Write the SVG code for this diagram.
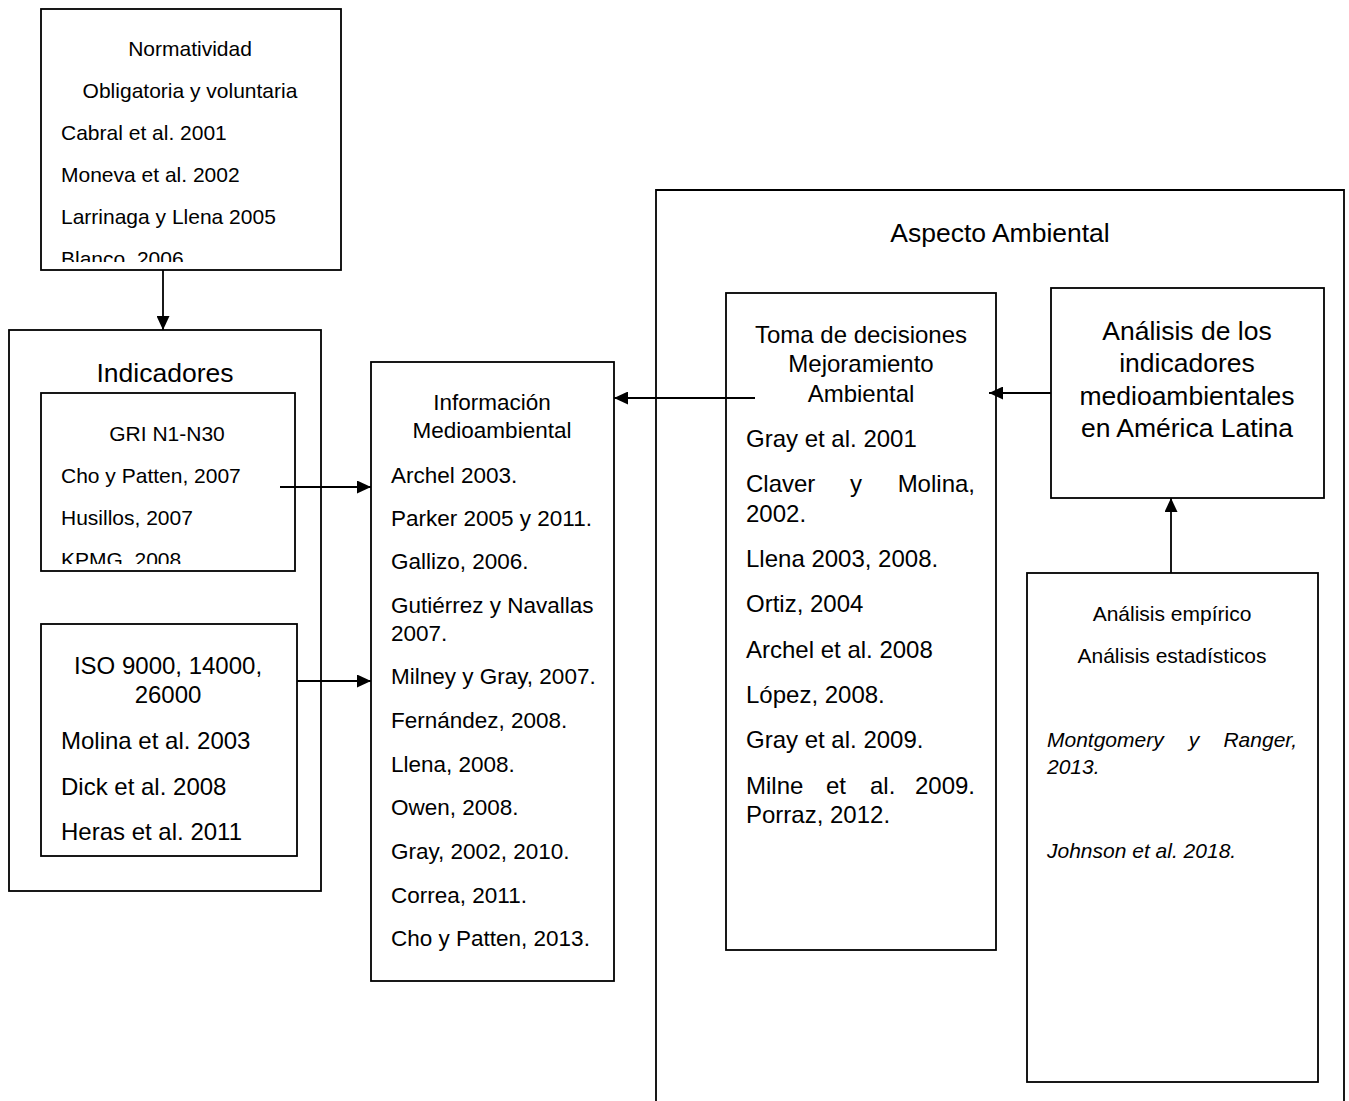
<svg xmlns="http://www.w3.org/2000/svg" width="1349" height="1101" viewBox="0 0 1349 1101">
<style>
.box{fill:#fff;stroke:#000;stroke-width:1.8}
.t{font-family:"Liberation Sans",Arial,sans-serif;fill:#000}
.c{text-anchor:middle}
.e{text-anchor:end}
.s21{font-size:21px}
.s22{font-size:22.5px}
.s24{font-size:24px}
.s26{font-size:26.5px}
.it{font-style:italic}
.ln{fill:none;stroke:#000;stroke-width:1.8}
</style>
<defs>
<marker id="ah" markerUnits="userSpaceOnUse" markerWidth="15" markerHeight="13" refX="14" refY="6.5" orient="auto">
<path d="M0,0 L14,6.5 L0,13 z" fill="#000"/>
</marker>
<clipPath id="clipTop"><rect x="41" y="9" width="300" height="253"/></clipPath>
<clipPath id="clipGri"><rect x="41" y="393" width="254" height="171"/></clipPath>
</defs>

<g id="aspecto">
<path class="ln" d="M656,1101 L656,190 L1344,190 L1344,1101"/>
<text class="t c s26" x="1000" y="242">Aspecto Ambiental</text>
</g>

<g id="normatividad">
<rect class="box" x="41" y="9" width="300" height="261"/>
<g clip-path="url(#clipTop)">
<text class="t c s21" x="190" y="56">Normatividad</text>
<text class="t c s21" x="190" y="98">Obligatoria y voluntaria</text>
<text class="t s21" x="61" y="140">Cabral et al. 2001</text>
<text class="t s21" x="61" y="182">Moneva et al. 2002</text>
<text class="t s21" x="61" y="224">Larrinaga y Llena 2005</text>
<text class="t s21" x="61" y="266">Blanco, 2006</text>
</g>
</g>

<g id="indicadores">
<rect class="box" x="9" y="330" width="312" height="561"/>
<text class="t c s26" x="165" y="382">Indicadores</text>
</g>

<g id="gri">
<rect class="box" x="41" y="393" width="254" height="178"/>
<g clip-path="url(#clipGri)">
<text class="t c s21" x="167" y="441">GRI N1-N30</text>
<text class="t s21" x="61" y="483">Cho y Patten, 2007</text>
<text class="t s21" x="61" y="525">Husillos, 2007</text>
<text class="t s21" x="61" y="567">KPMG, 2008</text>
</g>
</g>

<g id="iso">
<rect class="box" x="41" y="624" width="256" height="232"/>
<text class="t c s24" x="168" y="674">ISO 9000, 14000,</text>
<text class="t c s24" x="168" y="703">26000</text>
<text class="t s24" x="61" y="749">Molina et al. 2003</text>
<text class="t s24" x="61" y="795">Dick et al. 2008</text>
<text class="t s24" x="61" y="840">Heras et al. 2011</text>
</g>

<g id="informacion">
<rect class="box" x="371" y="362" width="243" height="619"/>
<text class="t c s22" x="492" y="410">Información</text>
<text class="t c s22" x="492" y="438">Medioambiental</text>
<text class="t s22" x="391" y="483">Archel 2003.</text>
<text class="t s22" x="391" y="526">Parker 2005 y 2011.</text>
<text class="t s22" x="391" y="569">Gallizo, 2006.</text>
<text class="t s22" x="391" y="613">Gutiérrez y Navallas</text>
<text class="t s22" x="391" y="641">2007.</text>
<text class="t s22" x="391" y="684">Milney y Gray, 2007.</text>
<text class="t s22" x="391" y="728">Fernández, 2008.</text>
<text class="t s22" x="391" y="772">Llena, 2008.</text>
<text class="t s22" x="391" y="815">Owen, 2008.</text>
<text class="t s22" x="391" y="859">Gray, 2002, 2010.</text>
<text class="t s22" x="391" y="903">Correa, 2011.</text>
<text class="t s22" x="391" y="946">Cho y Patten, 2013.</text>
</g>

<g id="toma">
<rect class="box" x="726" y="293" width="270" height="657"/>
<text class="t c s24" x="861" y="343">Toma de decisiones</text>
<text class="t c s24" x="861" y="372">Mejoramiento</text>
<text class="t c s24" x="861" y="402">Ambiental</text>
<text class="t s24" x="746" y="447">Gray et al. 2001</text>
<text class="t s24" x="746" y="492">Claver</text>
<text class="t c s24" x="856" y="492">y</text>
<text class="t e s24" x="975" y="492">Molina,</text>
<text class="t s24" x="746" y="522">2002.</text>
<text class="t s24" x="746" y="567">Llena 2003, 2008.</text>
<text class="t s24" x="746" y="612">Ortiz, 2004</text>
<text class="t s24" x="746" y="658">Archel et al. 2008</text>
<text class="t s24" x="746" y="703">López, 2008.</text>
<text class="t s24" x="746" y="748">Gray et al. 2009.</text>
<text class="t s24" x="746" y="794">Milne</text>
<text class="t s24" x="826" y="794">et</text>
<text class="t s24" x="870" y="794">al.</text>
<text class="t e s24" x="975" y="794">2009.</text>
<text class="t s24" x="746" y="823">Porraz, 2012.</text>
</g>

<g id="analisis">
<rect class="box" x="1051" y="288" width="273" height="210"/>
<text class="t c s26" x="1187" y="340">Análisis de los</text>
<text class="t c s26" x="1187" y="372">indicadores</text>
<text class="t c s26" x="1187" y="405">medioambientales</text>
<text class="t c s26" x="1187" y="437">en América Latina</text>
</g>

<g id="empirico">
<rect class="box" x="1027" y="573" width="291" height="509"/>
<text class="t c s21" x="1172" y="621">Análisis empírico</text>
<text class="t c s21" x="1172" y="663">Análisis estadísticos</text>
<text class="t it s21" x="1047" y="747">Montgomery</text>
<text class="t it c s21" x="1194" y="747">y</text>
<text class="t it e s21" x="1297" y="747">Ranger,</text>
<text class="t it s21" x="1047" y="774">2013.</text>
<text class="t it s21" x="1047" y="858">Johnson et al. 2018.</text>
</g>

<g id="connectors">
<line class="ln" x1="163" y1="270" x2="163" y2="330" marker-end="url(#ah)"/>
<line class="ln" x1="280" y1="487" x2="371" y2="487" marker-end="url(#ah)"/>
<line class="ln" x1="297" y1="681" x2="371" y2="681" marker-end="url(#ah)"/>
<line class="ln" x1="755" y1="398" x2="614" y2="398" marker-end="url(#ah)"/>
<line class="ln" x1="1051" y1="393" x2="989" y2="393" marker-end="url(#ah)"/>
<line class="ln" x1="1171" y1="573" x2="1171" y2="498" marker-end="url(#ah)"/>
</g>
</svg>
